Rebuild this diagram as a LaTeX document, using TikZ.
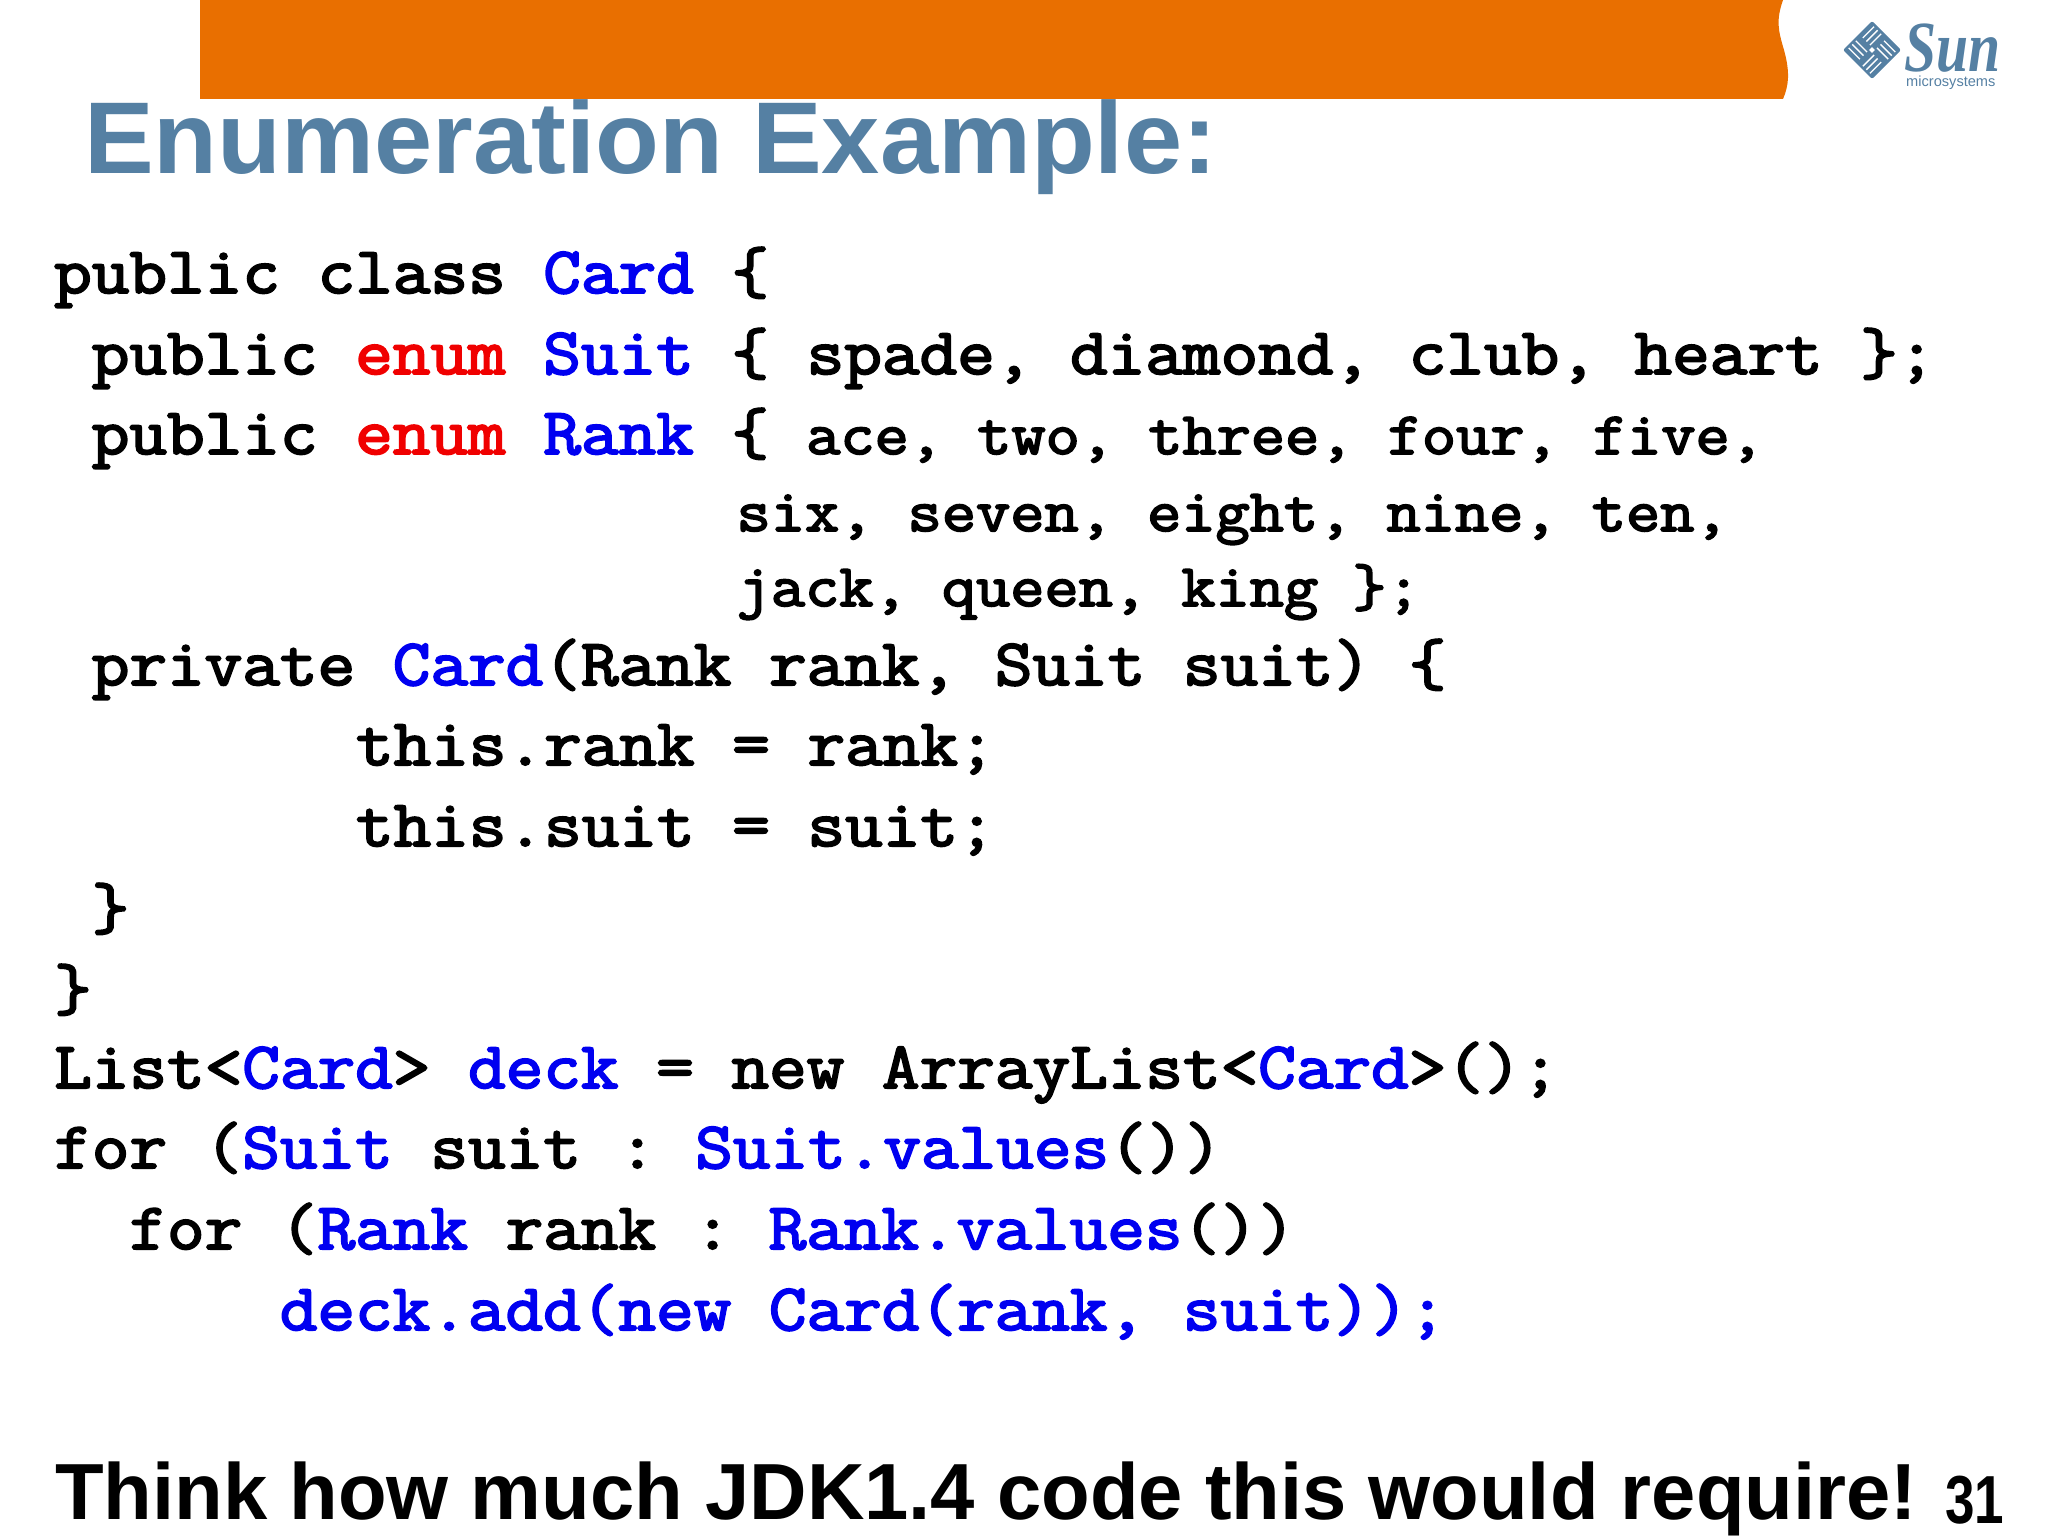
\documentclass[tikz,border=0pt]{standalone}
\usepackage{fontspec}
\setmainfont{Liberation Sans}
\newfontfamily\sunserif{Liberation Serif}
\newfontfamily\codefont[FakeBold=3,FakeStretch=1.107]{Latin Modern Mono}
\definecolor{sunorange}{HTML}{E96F00}
\definecolor{sunblue}{HTML}{5580A3}
\definecolor{codeblue}{HTML}{0000F0}
\definecolor{codered}{HTML}{F00000}
\newcommand{\bl}[1]{\textcolor{codeblue}{#1}}
\newcommand{\rd}[1]{\textcolor{codered}{#1}}
\def\pitch{37.6}
\tikzset{
    codeline/.style={anchor=base west,inner sep=0pt,font=\codefont\fontsize{66}{66}\selectfont},
    smallcode/.style={anchor=base west,inner sep=0pt,font=\codefont\fontsize{60}{60}\selectfont},
    headline/.style={anchor=base west,inner sep=0pt,font=\bfseries\fontsize{102}{102}\selectfont}
}
\begin{document}
\begin{tikzpicture}[x=1pt,y=-1pt]
    \useasboundingbox (0,0) rectangle (2048,1536);
    \fill[sunorange] (200,0) -- (1783,0) .. controls (1776,20) and (1778,30) .. (1784,50) .. controls (1790,72) and (1789,85) .. (1783,99) -- (200,99) -- cycle;
    \node[headline,text=sunblue] (title) at (84,174) {\scalebox{1.025}[1]{Enumeration Example:}};
    \begin{scope}[shift={(1872,50)},rotate=45]
        \fill[sunblue,rounded corners=2pt] (-20.5,-20.5) rectangle (20.5,20.5);
        \foreach \ang in {0,90,180,270}
            \draw[white,line width=1.3pt,rotate=\ang] (2,-15) -- (18,-15) (2,-10) -- (18,-10) (2,-5) -- (18,-5);
        \fill[white] (-2,-2) rectangle (2,2);
    \end{scope}
    \node[anchor=base west,inner sep=0pt,text=sunblue,font=\sunserif\bfseries\itshape\fontsize{72}{72}\selectfont] (sun) at (1904,72) {\scalebox{.8}[1]{Sun}};
    \node[anchor=base west,inner sep=0pt,text=sunblue,font=\fontsize{14.6}{14.6}\selectfont] (micro) at (1906,87) {microsystems};
    \node[codeline] (l1) at (54,293) {public class \bl{Card} \{};
    \node[codeline] (l2) at ({54+\pitch},374) {public \rd{enum} \bl{Suit} \{ spade, diamond, club, heart \};};
    \node[codeline] (l3) at ({54+\pitch},454) {public \rd{enum} \bl{Rank} \{};
    \node[smallcode] (l3b) at ({54+20*\pitch},454) {ace, two, three, four, five,};
    \node[smallcode] (l4) at ({54+18.15*\pitch},531) {six, seven, eight, nine, ten,};
    \node[smallcode] (l5) at ({54+18.15*\pitch},606) {jack, queen, king \};};
    \node[codeline] (l6) at ({54+\pitch},685) {private \bl{Card}(Rank rank, Suit suit) \{};
    \node[codeline] (l7) at ({55+8*\pitch},765) {this.rank = rank;};
    \node[codeline] (l8) at ({55+8*\pitch},846) {this.suit = suit;};
    \node[codeline] (l9) at ({54+\pitch},929) {\}};
    \node[codeline] (l10) at (54,1010) {\}};
    \node[codeline] (l11) at (54,1088) {List<\bl{Card}> \bl{deck} = new ArrayList<\bl{Card}>();};
    \node[codeline] (l12) at (54,1168) {for (\bl{Suit} suit :};
    \node[codeline] (l12b) at ({54+17.05*\pitch},1168) {\bl{Suit.values}())};
    \node[codeline] (l13) at ({54+2*\pitch},1249) {for (\bl{Rank} rank :};
    \node[codeline] (l13b) at ({54+19*\pitch},1249) {\bl{Rank.values}())};
    \node[codeline,text=codeblue] (l14) at ({54+6*\pitch},1330) {deck.add(new Card(rank, suit));};
    \node[anchor=base west,inner sep=0pt,font=\bfseries\fontsize{79.6}{79.6}\selectfont] (note) at (55,1519) {Think how much JDK1.4 code this would require!};
    \node[anchor=base west,inner sep=0pt,font=\bfseries\fontsize{68}{68}\selectfont] (page) at (1945,1523) {\scalebox{.78}[1]{31}};
\end{tikzpicture}
\end{document}
